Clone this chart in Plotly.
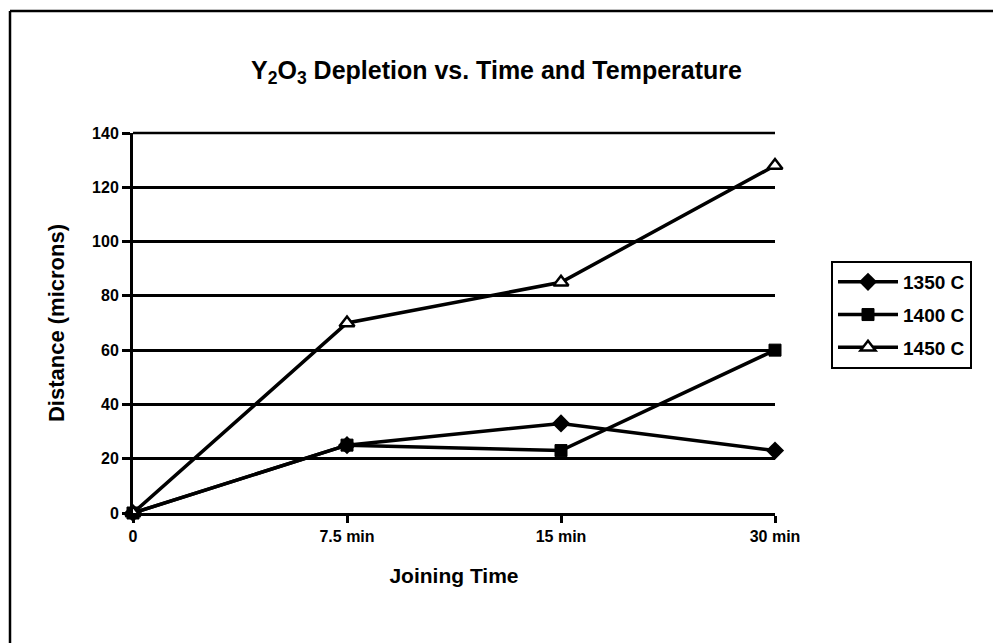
import plotly.graph_objects as go

# Joining time categories and measured Y2O3 depletion distance (microns)
times = ["0", "7.5 min", "15 min", "30 min"]
depletion_1350 = [0, 25, 33, 23]
depletion_1400 = [0, 25, 23, 60]
depletion_1450 = [0, 70, 85, 128]
y_max = 140

series = [
    ("1350 C", depletion_1350, dict(symbol="diamond", size=14, color="black")),
    ("1400 C", depletion_1400, dict(symbol="square", size=12, color="black",
                                    line=dict(color="black", width=1))),
    ("1450 C", depletion_1450, dict(symbol="triangle-up", size=13, color="white",
                                    line=dict(color="black", width=2.5))),
]

FONT = "Liberation Sans, Arial, sans-serif"

fig = go.Figure()
for name, vals, marker in series:
    fig.add_trace(go.Scatter(
        x=times, y=vals, name=name, mode="lines+markers",
        line=dict(color="black", width=3.5),
        marker=marker, cliponaxis=False, legendgroup=name,
    ))

# plot-area geometry (pixels) used to place the frame in paper coordinates
W, H = 993, 643
L, R, T, B = 133, 775, 133, 513
pw, ph = R - L, B - T


def px_x(x):
    return (x - L) / pw


def px_y(y):
    return (B - y) / ph


fig.update_layout(
    width=W, height=H,
    margin=dict(l=L, r=W - R, t=T, b=H - B),
    paper_bgcolor="white", plot_bgcolor="white",
    font=dict(family=FONT, color="black", size=14),
    title=dict(
        text="<b>Y<sub>2</sub>O<sub>3</sub> Depletion vs. Time and Temperature</b>",
        x=0.5, xref="container", xanchor="center",
        y=1 - 70 / H, yref="container", yanchor="middle",
        font=dict(size=25, family=FONT, color="black"),
    ),
    xaxis=dict(
        type="category", categoryorder="array", categoryarray=times,
        range=[0, 3], showgrid=False, zeroline=False,
        showline=True, linecolor="black", linewidth=3,
        ticks="outside", ticklen=7, tickwidth=2.5, tickcolor="black",
        tickfont=dict(size=16, family=FONT, color="black", weight="bold"),
        title=dict(text="<b>Joining Time</b>", standoff=25,
                   font=dict(size=21, family=FONT, color="black")),
    ),
    yaxis=dict(
        range=[0, y_max], dtick=20, tick0=0,
        showgrid=True, gridcolor="black", gridwidth=2.5,
        zeroline=False,
        showline=True, linecolor="black", linewidth=3,
        ticks="outside", ticklen=8, tickwidth=2.5, tickcolor="black",
        tickfont=dict(size=16, family=FONT, color="black", weight="bold"),
        title=dict(text="<b>Distance (microns)</b>", standoff=22,
                   font=dict(size=22, family=FONT, color="black")),
    ),
    legend=dict(
        x=px_x(831), y=px_y(261), xanchor="left", yanchor="top",
        bordercolor="black", borderwidth=2, bgcolor="white",
        font=dict(size=19, family=FONT, color="black", weight="bold"),
        tracegroupgap=5, itemwidth=60,
    ),
    showlegend=True,
)

# gridline along the top edge of the plot area (value 140)
fig.add_shape(type="line", xref="paper", yref="paper",
              x0=0, x1=1, y0=1, y1=1,
              line=dict(color="black", width=2.5))

# outer frame: top and left edges of the chart border
fig.add_shape(type="line", xref="paper", yref="paper",
              x0=px_x(10), y0=px_y(11), x1=px_x(W + 5), y1=px_y(11),
              line=dict(color="black", width=2.5))
fig.add_shape(type="line", xref="paper", yref="paper",
              x0=px_x(10), y0=px_y(11), x1=px_x(10), y1=px_y(H + 5),
              line=dict(color="black", width=2.5))

fig.write_html("out.html")
